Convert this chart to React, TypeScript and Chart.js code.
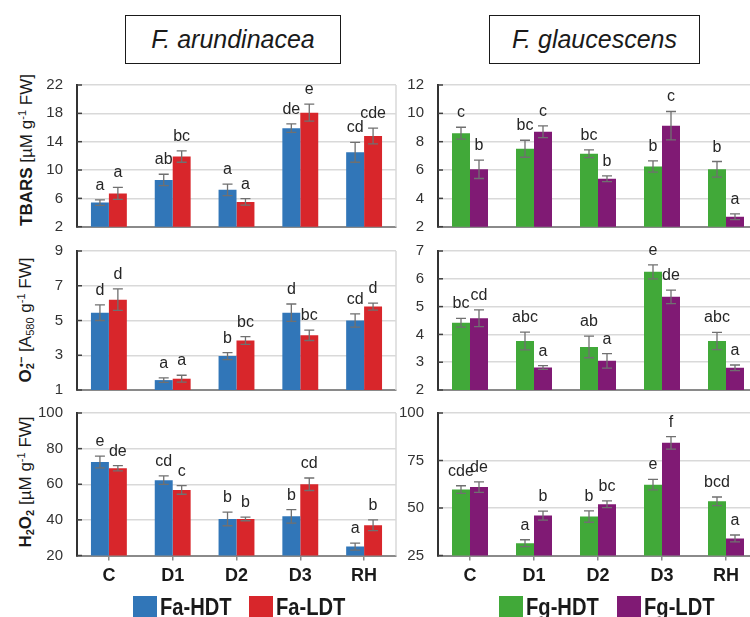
import React, { useEffect, useRef } from 'react';
import { Chart, registerables } from 'chart.js';
Chart.register(...registerables);

const categories = ['C', 'D1', 'D2', 'D3', 'RH'];

// F. arundinacea — TBARS
const faTbarsHdt = [5.4, 8.6, 7.2, 15.9, 12.5];
const faTbarsHdtErr = [0.4, 0.8, 0.8, 0.6, 1.4];
const faTbarsHdtSig = ['a', 'ab', 'a', 'de', 'cd'];
const faTbarsLdt = [6.7, 11.9, 5.5, 18.1, 14.8];
const faTbarsLdtErr = [0.85, 0.8, 0.45, 1.2, 1.1];
const faTbarsLdtSig = ['a', 'bc', 'a', 'e', 'cde'];
const faTbarsTicks = [2, 6, 10, 14, 18, 22];

// F. glaucescens — TBARS
const fgTbarsHdt = [8.6, 7.5, 7.15, 6.25, 6.05];
const fgTbarsHdtErr = [0.42, 0.6, 0.27, 0.4, 0.55];
const fgTbarsHdtSig = ['c', 'bc', 'bc', 'b', 'b'];
const fgTbarsLdt = [6.05, 8.7, 5.38, 9.13, 2.7];
const fgTbarsLdtErr = [0.65, 0.42, 0.2, 1.0, 0.2];
const fgTbarsLdtSig = ['b', 'c', 'b', 'c', 'a'];
const fgTbarsTicks = [2, 4, 6, 8, 10, 12];

// F. arundinacea — O2
const faO2Hdt = [5.45, 1.57, 2.95, 5.45, 5.0];
const faO2HdtErr = [0.45, 0.13, 0.2, 0.5, 0.38];
const faO2HdtSig = ['d', 'a', 'b', 'd', 'cd'];
const faO2Ldt = [6.2, 1.65, 3.85, 4.15, 5.8];
const faO2LdtErr = [0.62, 0.2, 0.22, 0.3, 0.2];
const faO2LdtSig = ['d', 'a', 'bc', 'bc', 'd'];
const faO2Ticks = [1, 3, 5, 7, 9];

// F. glaucescens — O2
const fgO2Hdt = [4.42, 3.76, 3.55, 6.25, 3.76];
const fgO2HdtErr = [0.16, 0.32, 0.39, 0.25, 0.31];
const fgO2HdtSig = ['bc', 'abc', 'ab', 'e', 'abc'];
const fgO2Ldt = [4.58, 2.81, 3.05, 5.35, 2.8];
const fgO2LdtErr = [0.3, 0.07, 0.26, 0.24, 0.1];
const fgO2LdtSig = ['cd', 'a', 'a', 'de', 'a'];
const fgO2Ticks = [2, 3, 4, 5, 6, 7];

// F. arundinacea — H2O2
const faH2o2Hdt = [72.5, 62.3, 40.5, 42, 25];
const faH2o2HdtErr = [3.3, 2.4, 3.8, 3.8, 2];
const faH2o2HdtSig = ['e', 'cd', 'b', 'b', 'a'];
const faH2o2Ldt = [69, 56.8, 40.5, 60, 37];
const faH2o2LdtErr = [1.5, 2.4, 1.0, 3.5, 3];
const faH2o2LdtSig = ['de', 'c', 'b', 'cd', 'b'];
const faH2o2Ticks = [20, 40, 60, 80, 100];

// F. glaucescens — H2O2
const fgH2o2Hdt = [59.7, 31.5, 45.5, 62.3, 53.5];
const fgH2o2HdtErr = [2, 1.8, 3, 2.8, 2.3];
const fgH2o2HdtSig = ['cde', 'a', 'b', 'e', 'bcd'];
const fgH2o2Ldt = [61, 46, 52, 84.3, 34];
const fgH2o2LdtErr = [2.8, 2.4, 1.8, 3.3, 1.8];
const fgH2o2LdtSig = ['de', 'b', 'bc', 'f', 'a'];
const fgH2o2Ticks = [25, 50, 75, 100];

const faSeries = ['Fa-HDT', 'Fa-LDT'];
const fgSeries = ['Fg-HDT', 'Fg-LDT'];

const BLUE = '#3176b8';
const RED = '#d8262b';
const GREEN = '#41a939';
const PURPLE = '#801a74';

const FONT = '"Liberation Sans", Arial, sans-serif';

const errorPlugin = {
  id: 'errbars',
  afterDatasetsDraw(chart: any) {
    const ctx = chart.ctx;
    const y = chart.scales.y;
    const a = chart.chartArea;
    ctx.save();
    // right border of plot area
    ctx.strokeStyle = '#d9d9d9';
    ctx.lineWidth = 1.5;
    ctx.beginPath();
    ctx.moveTo(a.right, a.top);
    ctx.lineTo(a.right, a.bottom);
    ctx.stroke();
    // inner y tick marks
    ctx.strokeStyle = '#404040';
    ctx.lineWidth = 1.5;
    y.ticks.forEach((t: any) => {
      const py = y.getPixelForValue(t.value);
      ctx.beginPath();
      ctx.moveTo(a.left, py);
      ctx.lineTo(a.left + 5, py);
      ctx.stroke();
    });
    chart.data.datasets.forEach((ds: any, i: number) => {
      const meta = chart.getDatasetMeta(i);
      meta.data.forEach((el: any, j: number) => {
        const v = ds.data[j];
        const e = ds.errors[j];
        const yt = y.getPixelForValue(v + e);
        const yb = y.getPixelForValue(v - e);
        ctx.strokeStyle = '#707070';
        ctx.lineWidth = 1.3;
        ctx.beginPath();
        ctx.moveTo(el.x, yt);
        ctx.lineTo(el.x, yb);
        ctx.moveTo(el.x - 5, yt);
        ctx.lineTo(el.x + 5, yt);
        ctx.moveTo(el.x - 5, yb);
        ctx.lineTo(el.x + 5, yb);
        ctx.stroke();
        ctx.fillStyle = '#262626';
        ctx.font = '16px ' + FONT;
        ctx.textAlign = 'center';
        ctx.textBaseline = 'alphabetic';
        ctx.fillText(ds.sigs[j], el.x, yt - 10);
      });
    });
    ctx.restore();
  },
};

type PanelProps = {
  left: number;
  top: number;
  width: number;
  height: number;
  yWidth: number;
  xHeight: number;
  padTop: number;
  padRight: number;
  showX: boolean;
  series: string[];
  colors: string[];
  values: number[][];
  errors: number[][];
  sigs: string[][];
  ticks: number[];
};

function Panel(p: PanelProps) {
  const ref = useRef<HTMLCanvasElement>(null);
  useEffect(() => {
    if (!ref.current) return;
    const chart = new Chart(ref.current, {
      type: 'bar',
      data: {
        labels: categories,
        datasets: p.values.map((vals, i) => ({
          label: p.series[i],
          data: vals,
          errors: p.errors[i],
          sigs: p.sigs[i],
          backgroundColor: p.colors[i],
          borderWidth: 0,
          categoryPercentage: 0.5625,
          barPercentage: 1.0,
        })) as any,
      },
      options: {
        animation: false,
        responsive: false,
        layout: { padding: { top: p.padTop, right: p.padRight, left: 0, bottom: 0 } },
        plugins: { legend: { display: false }, tooltip: { enabled: false } },
        scales: {
          x: {
            afterFit: (s: any) => {
              s.height = p.xHeight;
            },
            grid: {
              display: true,
              drawOnChartArea: false,
              drawTicks: p.showX,
              tickLength: 5,
              offset: false,
              color: '#8a8a8a',
              lineWidth: 1.5,
            },
            border: { display: true, color: '#8a8a8a', width: 2 },
            ticks: {
              display: p.showX,
              padding: 5,
              color: '#1a1a1a',
              font: { family: FONT, size: 18, weight: 'bold' },
            },
          },
          y: {
            min: p.ticks[0],
            max: p.ticks[p.ticks.length - 1],
            afterFit: (s: any) => {
              s.width = p.yWidth;
            },
            afterBuildTicks: (s: any) => {
              s.ticks = p.ticks.map((v) => ({ value: v }));
            },
            grid: {
              color: '#d9d9d9',
              lineWidth: 1.5,
              drawTicks: true,
              tickLength: 14,
              tickColor: 'rgba(0,0,0,0)',
            },
            border: { display: true, color: '#333333', width: 2 },
            ticks: {
              padding: 0,
              color: '#333333',
              font: { family: FONT, size: 15 },
            },
          },
        },
      },
      plugins: [errorPlugin],
    } as any);
    return () => chart.destroy();
  }, []);
  return (
    <div style={{ position: 'absolute', left: p.left, top: p.top, width: p.width, height: p.height }}>
      <canvas ref={ref} width={p.width} height={p.height} style={{ width: p.width, height: p.height, display: 'block' }} />
    </div>
  );
}

function YTitle({ x, y, children }: { x: number; y: number; children: React.ReactNode }) {
  return (
    <div
      style={{
        position: 'absolute',
        left: x,
        top: y,
        transform: 'translate(-50%, -50%) rotate(-90deg)',
        whiteSpace: 'nowrap',
        fontFamily: FONT,
        fontSize: 17,
        color: '#1a1a1a',
        lineHeight: 1,
      }}
    >
      {children}
    </div>
  );
}

function TitleBox({ x, y, w, h, text }: { x: number; y: number; w: number; h: number; text: string }) {
  return (
    <div
      style={{
        position: 'absolute',
        left: x,
        top: y,
        width: w,
        height: h,
        boxSizing: 'border-box',
        border: '1.5px solid #1a1a1a',
        display: 'flex',
        alignItems: 'center',
        justifyContent: 'center',
        fontFamily: FONT,
        fontStyle: 'italic',
        fontSize: 25,
        color: '#1a1a1a',
      }}
    >
      {text}
    </div>
  );
}

function LegendItem({ x, color, text }: { x: number; color: string; text: string }) {
  return (
    <div style={{ position: 'absolute', left: x, top: 596, display: 'flex', alignItems: 'center' }}>
      <div style={{ width: 24, height: 22, background: color, marginRight: 3 }} />
      <span
        style={{
          display: 'inline-block',
          fontFamily: FONT,
          fontWeight: 'bold',
          fontSize: 24,
          color: '#1a1a1a',
          lineHeight: '22px',
          transform: 'scaleX(0.84)',
          transformOrigin: 'left center',
          whiteSpace: 'nowrap',
        }}
      >
        {text}
      </span>
    </div>
  );
}

const sub = { fontSize: '0.65em', verticalAlign: '-0.25em' } as React.CSSProperties;
const sup = { fontSize: '0.65em', verticalAlign: '0.55em' } as React.CSSProperties;

export default function App() {
  const L = { left: 0, width: 400, yWidth: 77, padRight: 4 };
  const R = { left: 400, width: 360, yWidth: 38, padRight: 2 };
  const T = { top: 70, height: 170, padTop: 15, xHeight: 13.3 };
  const M = { top: 240, height: 160, padTop: 11, xHeight: 10 };
  const B = { top: 400, height: 195, padTop: 13, xHeight: 39.5 };
  return (
    <div style={{ position: 'absolute', left: 0, top: 0, width: 750, height: 617, overflow: 'hidden', background: '#ffffff' }}>
      <TitleBox x={125} y={15} w={216} h={49} text="F. arundinacea" />
      <TitleBox x={489} y={15} w={211} h={49} text="F. glaucescens" />

      <YTitle x={26} y={150}>
        <b>TBARS</b> [µM g<span style={sup}>-1</span> FW]
      </YTitle>
      <YTitle x={26} y={320}>
        <b>
          O<span style={sub}>2</span>
          <span style={{ ...sup, marginLeft: '-0.35em' }}>•−</span>
        </b>{' '}
        [A<span style={sub}>580</span> g<span style={sup}>-1</span> FW]
      </YTitle>
      <YTitle x={26} y={482}>
        <b>
          H<span style={sub}>2</span>O<span style={sub}>2</span>
        </b>{' '}
        [µM g<span style={sup}>-1</span> FW]
      </YTitle>

      <Panel {...L} {...T} showX={false} series={faSeries} colors={[BLUE, RED]}
        values={[faTbarsHdt, faTbarsLdt]} errors={[faTbarsHdtErr, faTbarsLdtErr]} sigs={[faTbarsHdtSig, faTbarsLdtSig]} ticks={faTbarsTicks} />
      <Panel {...R} {...T} showX={false} series={fgSeries} colors={[GREEN, PURPLE]}
        values={[fgTbarsHdt, fgTbarsLdt]} errors={[fgTbarsHdtErr, fgTbarsLdtErr]} sigs={[fgTbarsHdtSig, fgTbarsLdtSig]} ticks={fgTbarsTicks} />
      <Panel {...L} {...M} showX={false} series={faSeries} colors={[BLUE, RED]}
        values={[faO2Hdt, faO2Ldt]} errors={[faO2HdtErr, faO2LdtErr]} sigs={[faO2HdtSig, faO2LdtSig]} ticks={faO2Ticks} />
      <Panel {...R} {...M} showX={false} series={fgSeries} colors={[GREEN, PURPLE]}
        values={[fgO2Hdt, fgO2Ldt]} errors={[fgO2HdtErr, fgO2LdtErr]} sigs={[fgO2HdtSig, fgO2LdtSig]} ticks={fgO2Ticks} />
      <Panel {...L} {...B} showX={true} series={faSeries} colors={[BLUE, RED]}
        values={[faH2o2Hdt, faH2o2Ldt]} errors={[faH2o2HdtErr, faH2o2LdtErr]} sigs={[faH2o2HdtSig, faH2o2LdtSig]} ticks={faH2o2Ticks} />
      <Panel {...R} {...B} showX={true} series={fgSeries} colors={[GREEN, PURPLE]}
        values={[fgH2o2Hdt, fgH2o2Ldt]} errors={[fgH2o2HdtErr, fgH2o2LdtErr]} sigs={[fgH2o2HdtSig, fgH2o2LdtSig]} ticks={fgH2o2Ticks} />

      <LegendItem x={133} color={BLUE} text={faSeries[0]} />
      <LegendItem x={249} color={RED} text={faSeries[1]} />
      <LegendItem x={499} color={GREEN} text={fgSeries[0]} />
      <LegendItem x={617} color={PURPLE} text={fgSeries[1]} />
    </div>
  );
}
